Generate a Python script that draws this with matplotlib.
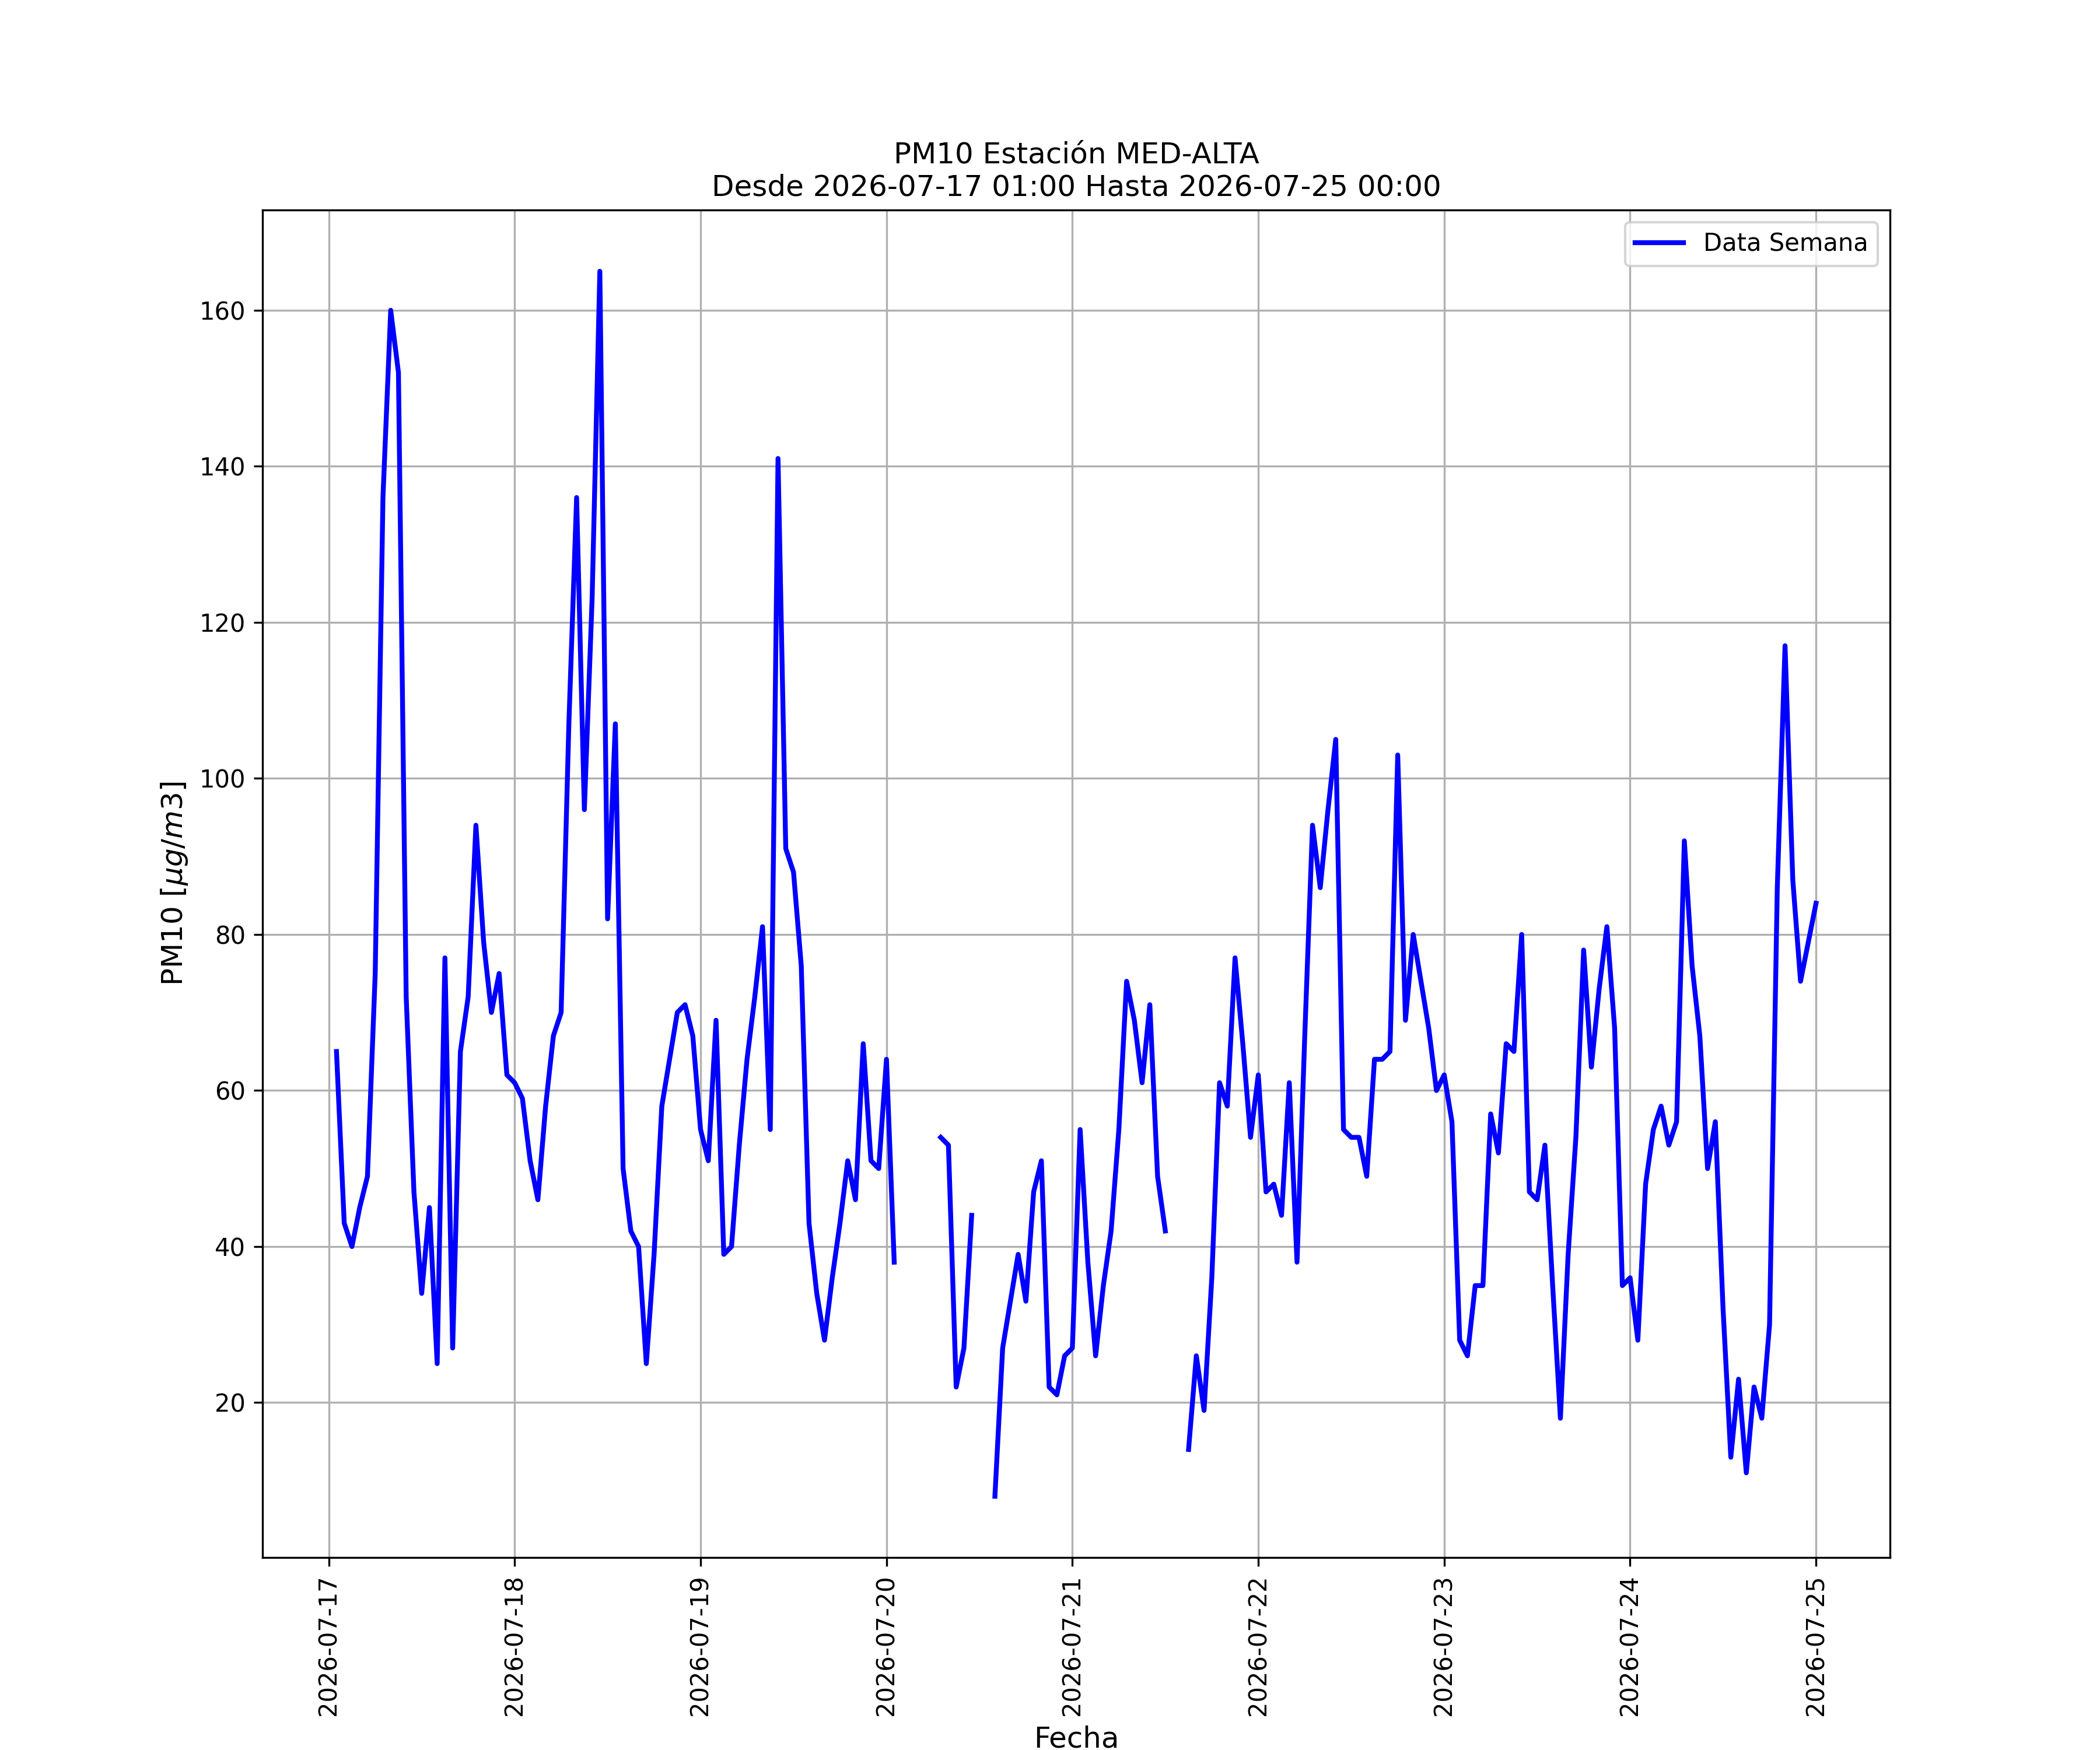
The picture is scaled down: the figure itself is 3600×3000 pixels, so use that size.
import numpy as np
import pandas as pd
import matplotlib
matplotlib.use("Agg")
import matplotlib.pyplot as plt

# ======================================================
# Datos horarios PM10 (NaN = sin dato)
# ======================================================

nan = np.nan

inicio = "2026-07-17 01:00"
fin = "2026-07-25 00:00"

dia_17 = [65, 43, 40, 45, 49, 75, 136, 160, 152, 72, 47, 34,
          45, 25, 77, 27, 65, 72, 94, 79, 70, 75, 62]
dia_18 = [61, 59, 51, 46, 58, 67, 70, 107, 136, 96, 123, 165,
          82, 107, 50, 42, 40, 25, 39, 58, 64, 70, 71, 67]
dia_19 = [55, 51, 69, 39, 40, 53, 64, 72, 81, 55, 141, 91,
          88, 76, 43, 34, 28, 36, 43, 51, 46, 66, 51, 50]
dia_20 = [64, 38, nan, nan, nan, nan, nan, 54, 53, 22, 27, 44,
          nan, nan, 8, 27, 33, 39, 33, 47, 51, 22, 21, 26]
dia_21 = [27, 55, 38, 26, 35, 42, 55, 74, 69, 61, 71, 49,
          42, nan, nan, 14, 26, 19, 36, 61, 58, 77, 66, 54]
dia_22 = [62, 47, 48, 44, 61, 38, 67, 94, 86, 96, 105, 55,
          54, 54, 49, 64, 64, 65, 103, 69, 80, 74, 68, 60]
dia_23 = [62, 56, 28, 26, 35, 35, 57, 52, 66, 65, 80, 47,
          46, 53, 35, 18, 39, 54, 78, 63, 73, 81, 68, 35]
dia_24 = [36, 28, 48, 55, 58, 53, 56, 92, 76, 67, 50, 56,
          32, 13, 23, 11, 22, 18, 30, 86, 117, 87, 74, 79]
dia_25 = [84]

valores = dia_17 + dia_18 + dia_19 + dia_20 + dia_21 + dia_22 + dia_23 + dia_24 + dia_25

fechas = pd.date_range(inicio, fin, freq="h")

data = pd.DataFrame({"fecha": fechas, "pm10": valores})

# ======================================================
# Gráfica
# ======================================================

fig = plt.figure(figsize=(12, 10))

plt.plot(data["fecha"], data["pm10"], color="b", linewidth=2, label="Data Semana")

plt.title("PM10 Estación MED-ALTA\nDesde " + inicio + " Hasta " + fin, fontsize=12)
plt.xlabel("Fecha", fontsize=12)
plt.ylabel(r"PM10 [$\mu g/m3$]", fontsize=12)

plt.xticks(rotation=90)
plt.grid(True)
plt.legend(loc="upper right")

plt.savefig("out.png", dpi=300)
plt.close()
